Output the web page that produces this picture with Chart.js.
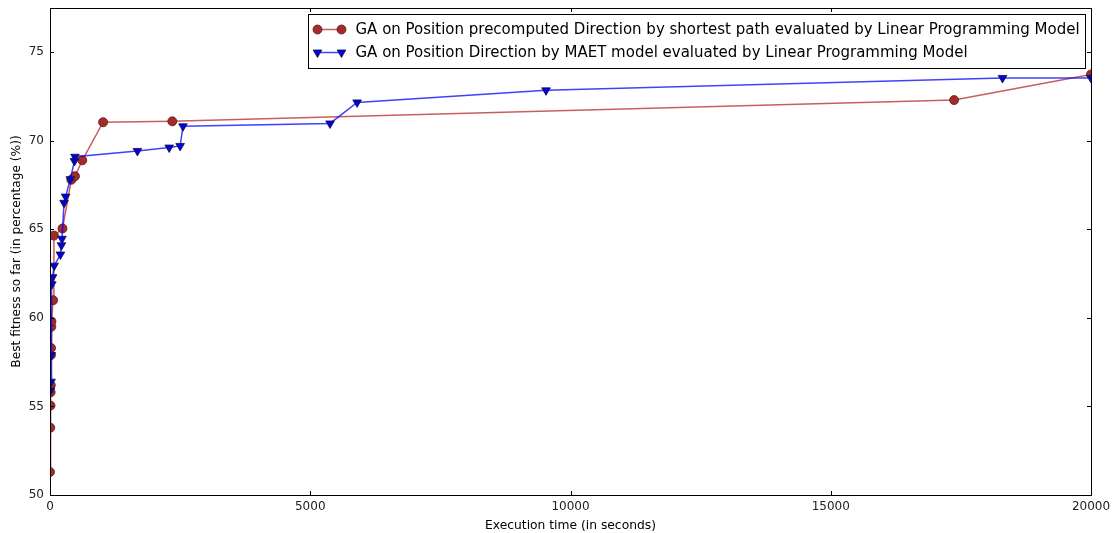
<!DOCTYPE html>
<html>
<head>
<meta charset="utf-8">
<script src="https://cdn.jsdelivr.net/npm/chart.js@4"></script>
<style>
  body { margin: 0; background: #fff; }
  canvas { display: block; }
</style>
</head>
<body>
<canvas id="my-chart" width="1117" height="533"></canvas>
<script>
// execution time (s) and best fitness (%)
const redTimes = [0, 5, 10, 12, 15, 18, 20, 25, 28, 60, 75, 240, 410, 480, 620, 1020, 2350, 17370, 20000];
const redFitness = [51.3, 53.8, 55.05, 55.8, 56.2, 57.9, 58.3, 59.5, 59.8, 61.0, 64.65, 65.05, 67.8, 68.0, 68.9, 71.05, 71.1, 72.3, 73.75];

const blueTimes = [10, 20, 25, 35, 50, 80, 200, 220, 230, 270, 300, 390, 470, 480, 1680, 2290, 2500, 2555, 5380, 5900, 9530, 18300, 20000];
const blueFitness = [55.9, 56.4, 57.9, 61.9, 62.3, 62.95, 63.58, 64.1, 64.47, 66.5, 66.85, 67.83, 68.86, 69.1, 69.43, 69.62, 69.71, 70.82, 70.98, 72.17, 72.85, 73.55, 73.55];

const xTicks = [0, 5000, 10000, 15000, 20000];
const yTicks = [50, 55, 60, 65, 70, 75];

const redLabel = "GA on Position precomputed Direction by shortest path evaluated by Linear Programming Model";
const blueLabel = "GA on Position Direction by MAET model evaluated by Linear Programming Model";

function toPoints(xs, ys) {
    return xs.map((x, i) => ({ x: x, y: ys[i] }));
}

// frame + inward ticks on every side, like the old matplotlib style
const frameTicks = {
    id: "frameTicks",
    afterDatasetsDraw(chart) {
        const ctx = chart.ctx;
        const a = chart.chartArea;
        const xs = chart.scales.x;
        const ys = chart.scales.y;
        ctx.save();
        ctx.strokeStyle = "#000";
        ctx.lineWidth = 1;
        ctx.beginPath();
        xTicks.forEach(t => {
            const px = Math.round(xs.getPixelForValue(t)) + 0.5;
            ctx.moveTo(px, a.bottom); ctx.lineTo(px, a.bottom - 4);
            ctx.moveTo(px, a.top); ctx.lineTo(px, a.top + 4);
        });
        yTicks.forEach(t => {
            const py = Math.round(ys.getPixelForValue(t)) + 0.5;
            ctx.moveTo(a.left, py); ctx.lineTo(a.left + 4, py);
            ctx.moveTo(a.right, py); ctx.lineTo(a.right - 4, py);
        });
        ctx.stroke();
        ctx.strokeRect(Math.round(a.left) + 0.5, Math.round(a.top) + 0.5,
            Math.round(a.right - a.left), Math.round(a.bottom - a.top));
        ctx.restore();
    }
};

// legend box in the upper right, drawn by hand
const boxLegend = {
    id: "boxLegend",
    afterDraw(chart) {
        const ctx = chart.ctx;
        const left = 308.5, top = 14.5, w = 777, h = 54;
        ctx.save();
        ctx.fillStyle = "#fff";
        ctx.fillRect(left, top, w, h);
        ctx.strokeStyle = "#000";
        ctx.lineWidth = 1;
        ctx.strokeRect(left, top, w, h);
        ctx.font = "15px 'DejaVu Sans'";
        ctx.textBaseline = "middle";
        const rows = [
            { ds: chart.data.datasets[0], y: top + 15 },
            { ds: chart.data.datasets[1], y: top + 38 }
        ];
        rows.forEach(r => {
            ctx.strokeStyle = r.ds.borderColor;
            ctx.lineWidth = 1.5;
            ctx.beginPath();
            ctx.moveTo(left + 9, r.y); ctx.lineTo(left + 33, r.y);
            ctx.stroke();
            [left + 9, left + 33].forEach(px => {
                ctx.fillStyle = r.ds.pointBackgroundColor;
                ctx.strokeStyle = r.ds.pointBorderColor;
                ctx.lineWidth = 0.8;
                Chart.helpers.drawPoint(ctx, {
                    pointStyle: r.ds.pointStyle,
                    radius: r.ds.pointRadius,
                    rotation: r.ds.pointRotation || 0,
                    borderWidth: 0.8
                }, px, r.y);
            });
            ctx.fillStyle = "#000";
            ctx.fillText(r.ds.label, left + 47, r.y + 1);
        });
        ctx.restore();
    }
};

new Chart(document.getElementById("my-chart"), {
    type: "line",
    data: {
        datasets: [
            {
                label: redLabel,
                data: toPoints(redTimes, redFitness),
                borderColor: "rgba(180, 40, 40, 0.75)",
                borderWidth: 1.5,
                pointStyle: "circle",
                pointRadius: 4.5,
                pointBackgroundColor: "#a52a2a",
                pointBorderColor: "#5a1a1a",
                pointBorderWidth: 0.8,
                order: 1
            },
            {
                label: blueLabel,
                data: toPoints(blueTimes, blueFitness),
                borderColor: "rgba(0, 0, 255, 0.75)",
                borderWidth: 1.5,
                pointStyle: "triangle",
                pointRotation: 180,
                pointRadius: 5,
                pointBackgroundColor: "#0000e0",
                pointBorderColor: "#101040",
                pointBorderWidth: 0.8,
                order: 0
            }
        ]
    },
    options: {
        responsive: false,
        animation: false,
        layout: { padding: { top: 8, right: 26, left: 10, bottom: 0 } },
        plugins: {
            legend: { display: false },
            tooltip: { enabled: false }
        },
        scales: {
            x: {
                type: "linear",
                min: 0,
                max: 20000,
                afterBuildTicks: s => { s.ticks = xTicks.map(v => ({ value: v })); },
                afterFit: s => { s.height = 38; },
                grid: { display: false, drawTicks: false },
                border: { display: false },
                ticks: { autoSkip: false, maxRotation: 0, padding: 5, color: "#222", font: { family: "DejaVu Sans", size: 12 }, callback: v => String(v) },
                title: { display: true, text: "Execution time (in seconds)", color: "#000", font: { family: "DejaVu Sans", size: 12.3 }, padding: { top: 2, bottom: 0 } }
            },
            y: {
                type: "linear",
                min: 50,
                max: 77.5,
                afterBuildTicks: s => { s.ticks = yTicks.map(v => ({ value: v })); },
                afterFit: s => { s.width = 40; s.paddingTop = 0; s.paddingBottom = 0; },
                grid: { display: false, drawTicks: false },
                border: { display: false },
                ticks: { autoSkip: false, padding: 6, color: "#222", font: { family: "DejaVu Sans", size: 12 }, callback: v => String(v) },
                title: { display: true, text: "Best fitness so far (in percentage (%))", color: "#000", font: { family: "DejaVu Sans", size: 12.2 }, padding: { top: 0, bottom: 4 } }
            }
        }
    },
    plugins: [frameTicks, boxLegend]
});
</script>
</body>
</html>
